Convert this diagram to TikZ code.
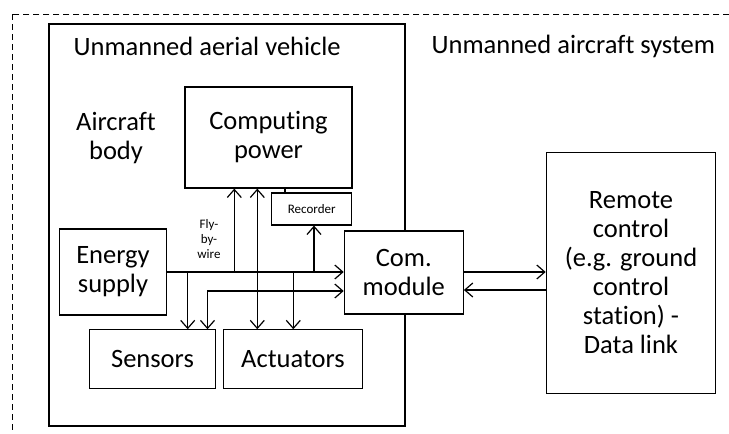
\documentclass[tikz,border=0pt]{standalone}
\usepackage{fontspec}
\setmainfont{Carlito}[Ligatures=CommonOff]
\usetikzlibrary{
	arrows.meta,   %箭头
	calc
}
\tikzset{
	every picture/.style={
		>={Straight Barb[length=8pt,width=14pt]}
}}
\tikzset{block/.style={draw,
fill=white,
align=center,
inner sep=0pt,
font=\fontsize{26.5}{29}\selectfont}}
\tikzset{small/.style={align=center,
font=\fontsize{13}{15}\selectfont}}

\begin{document}
\begin{tikzpicture}[x=1pt,y=-1pt,line width=1.2pt]
\clip (0,0) rectangle (729,434);
% 外框 (虚线)
\draw[line width=0.9pt,dash pattern=on 6pt off 4pt] (12.7,14) rectangle (760,460);
\node[draw,minimum width=356,minimum height=402,inner sep=0pt] (uav) at (227,225) {};
\node[anchor=base west,inner sep=0pt,font=\fontsize{26.5}{29}\selectfont] (uavlbl) at (73,55) {Unmanned aerial vehicle};
\node[anchor=base west,inner sep=0pt,font=\fontsize{26.5}{29}\selectfont] (uas) at (431,53) {Unmanned aircraft system};
\node[align=center,font=\fontsize{26.5}{29}\selectfont] (body) at (116,138) {Aircraft\\body};
% 方框
\node[block,minimum width=167,minimum height=101] (cp) at (268.5,137.5) {Computing\\power};
\node[block,small,minimum width=80,minimum height=32] (rec) at (311.7,209) {Recorder};
\node[block,minimum width=107.4,minimum height=86] (es) at (113,272) {Energy\\supply};
\node[block,minimum width=119,minimum height=83] (cm) at (403.8,272.5) {Com.\\module};
\node[block,minimum width=169.4,minimum height=241] (rc) at (631,272.8) {Remote\\control\\(e.g. ground\\control\\station) -\\Data link};
\node[block,minimum width=126.4,minimum height=58.3] (sen) at (152.5,359) {Sensors};
\node[block,minimum width=139.4,minimum height=58.3] (act) at (293,359) {Actuators};
\node[small] (fbw) at (209,239) {Fly-\\by-\\wire};
% 连线
\coordinate (tapS) at (187.7,272);
\coordinate (tapF) at (234.3,272);
\coordinate (tapA) at (293.3,272);
\coordinate (tapR) at (314,272);
\coordinate (bi) at (257.3,272);
\coordinate (lk) at (285,190);
\coordinate (sn) at (207.5,291);
\coordinate (up) at (0,272);
\coordinate (dn) at (0,290);
\draw[->] (es.east) -- (es.east -| cm.west);
\draw[->] (tapF) -- (tapF |- cp.south);
\draw[->] (tapR) -- (tapR |- rec.south);
\draw[->] (tapS) -- (tapS |- sen.north);
\draw[->] (tapA) -- (tapA |- act.north);
\draw[<->] (bi |- cp.south) -- (bi |- act.north);
\draw (lk |- cp.south) -- (lk |- rec.north);
\draw[<->] (sn -| cm.west) -| (sen.north -| sn);
\draw[->] (cm.east |- up) -- (rc.west |- up);
\draw[->] (rc.west |- dn) -- (cm.east |- dn);
\end{tikzpicture}
\end{document}
